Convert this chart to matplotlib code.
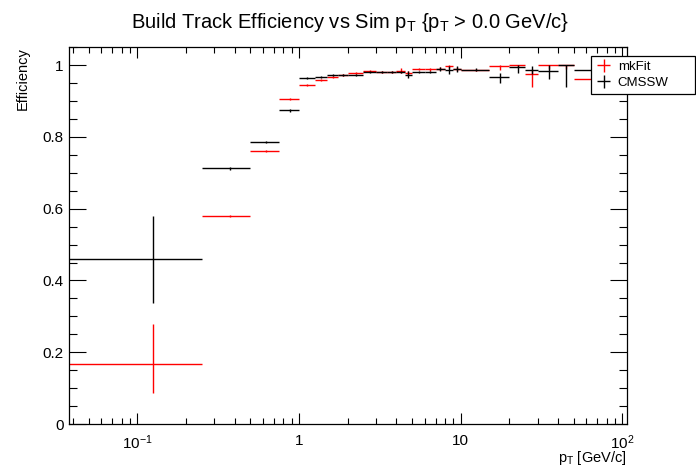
import matplotlib
matplotlib.use('Agg')
import matplotlib.pyplot as plt
from matplotlib.patches import Rectangle
from matplotlib.ticker import LogLocator, NullFormatter, MultipleLocator
from matplotlib.container import ErrorbarContainer
from matplotlib.legend_handler import HandlerErrorbar
import numpy as np

plt.rcParams['font.family'] = ['Liberation Sans', 'DejaVu Sans']
plt.rcParams['mathtext.fontset'] = 'custom'
plt.rcParams['mathtext.rm'] = 'Liberation Sans'
plt.rcParams['mathtext.it'] = 'Liberation Sans'
plt.rcParams['mathtext.bf'] = 'Liberation Sans:bold'

# ---- data ----
bin_edges = [0.0, 0.25, 0.5, 0.75, 1.0, 1.25, 1.5, 1.75, 2.0, 2.5, 3.0, 3.5, 4.0,
             4.5, 5.0, 6.0, 7.0, 8.0, 9.0, 10.0, 15.0, 20.0, 25.0, 30.0, 40.0,
             50.0, 100.0]

mkfit_eff = [0.167, 0.579, 0.761, 0.907, 0.945, 0.959, 0.967, 0.973, 0.978,
             0.983, 0.981, 0.981, 0.985, 0.978, 0.989, 0.989, 0.990, 0.999,
             0.990, 0.987, 0.998, 1.000, 0.975, 1.000, 1.000, 0.962]
mkfit_err_lo = [0.080, 0.003, 0.003, 0.003, 0.003, 0.003, 0.003, 0.003, 0.003,
                0.003, 0.003, 0.003, 0.006, 0.006, 0.003, 0.004, 0.004, 0.006,
                0.005, 0.003, 0.010, 0.006, 0.035, 0.010, 0.010, 0.008]
mkfit_err_hi = [0.112, 0.003, 0.003, 0.003, 0.003, 0.003, 0.003, 0.003, 0.003,
                0.003, 0.003, 0.003, 0.006, 0.006, 0.003, 0.004, 0.004, 0.001,
                0.004, 0.003, 0.002, 0.000, 0.015, 0.000, 0.000, 0.008]

cmssw_eff = [0.459, 0.713, 0.786, 0.875, 0.964, 0.967, 0.973, 0.973, 0.973,
             0.981, 0.981, 0.981, 0.981, 0.974, 0.981, 0.981, 0.990, 0.986,
             0.990, 0.987, 0.966, 0.994, 0.987, 0.985, 1.000, 0.986]
cmssw_err_lo = [0.121, 0.004, 0.004, 0.004, 0.003, 0.003, 0.003, 0.003, 0.003,
                0.003, 0.003, 0.003, 0.004, 0.010, 0.004, 0.004, 0.006, 0.011,
                0.009, 0.004, 0.016, 0.016, 0.012, 0.023, 0.060, 0.006]
cmssw_err_hi = [0.121, 0.004, 0.004, 0.004, 0.003, 0.003, 0.003, 0.003, 0.003,
                0.003, 0.003, 0.003, 0.004, 0.010, 0.004, 0.004, 0.006, 0.011,
                0.009, 0.004, 0.012, 0.006, 0.012, 0.015, 0.000, 0.006]

series_labels = ['mkFit', 'CMSSW']
series_colors = ['red', 'black']

xtick_values = [0.1, 1, 10, 100]
xtick_labels = [r'$\mathregular{10^{-1}}$', '1', '10', r'$\mathregular{10^{2}}$']
ytick_values = [0, 0.2, 0.4, 0.6, 0.8, 1.0]
ytick_labels = ['0', '0.2', '0.4', '0.6', '0.8', '1']

# ---- figure ----
W, H = 696, 472
fig = plt.figure(figsize=(W / 100, H / 100), dpi=100)
ax = fig.add_axes([69.3 / W, 1 - 424 / H, (626.7 - 69.3) / W, (424 - 47.3) / H])

edges = np.array(bin_edges)
lo = edges[:-1]
hi = edges[1:]
centers = 0.5 * (lo + hi)
lo_plot = np.maximum(lo, 1e-3)
xerr = [centers - lo_plot, hi - centers]

handles = []
for eff, elo, ehi, col, z in [(mkfit_eff, mkfit_err_lo, mkfit_err_hi, series_colors[0], 2),
                              (cmssw_eff, cmssw_err_lo, cmssw_err_hi, series_colors[1], 3)]:
    h = ax.errorbar(centers, eff, xerr=xerr, yerr=[elo, ehi], fmt='none',
                    ecolor=col, elinewidth=1.0, capsize=0, zorder=z)
    handles.append(h)

ax.set_xscale('log')
ax.set_xlim(0.038, 106.5)
ax.set_ylim(0, 1.05)

ax.set_xticks(xtick_values)
ax.set_xticklabels(xtick_labels)
ax.xaxis.set_minor_locator(LogLocator(base=10, subs=np.arange(2, 10)))
ax.xaxis.set_minor_formatter(NullFormatter())
ax.set_yticks(ytick_values)
ax.set_yticklabels(ytick_labels)
ax.yaxis.set_minor_locator(MultipleLocator(0.05))

ax.tick_params(which='both', direction='in', top=True, right=True, width=0.8,
               labelsize=11)
ax.tick_params(axis='x', which='major', length=8, pad=7)
ax.tick_params(axis='x', which='minor', length=4.3)
ax.tick_params(axis='y', which='major', length=12.2, pad=4)
ax.tick_params(axis='y', which='minor', length=5.8)
for s in ax.spines.values():
    s.set_linewidth(0.9)

# axis titles
ax.text(1.0, -0.101, r'p$_\mathregular{T}$ [GeV/c]', transform=ax.transAxes,
        ha='right', va='baseline', fontsize=10.5)
ax.text((22.5 - 69.3) / (626.7 - 69.3), 1.0, 'Efficiency', transform=ax.transAxes,
        rotation=90, ha='center', va='top', fontsize=10.5)

# title
fig.text(350 / W, 1 - 28 / H,
         r'Build Track Efficiency vs Sim p$_\mathregular{T}$ {p$_\mathregular{T}$ > 0.0 GeV/c}',
         ha='center', va='baseline', fontsize=14.5)

# legend
fig.patches.append(Rectangle((591 / W, 1 - 94 / H), 104 / W, 38 / H,
                             transform=fig.transFigure, facecolor='white',
                             edgecolor='black', linewidth=0.9, zorder=4))
fig.legend(handles=handles, labels=series_labels, loc='center left',
           bbox_to_anchor=(594 / W, 1 - 74.85 / H), bbox_transform=fig.transFigure,
           frameon=False, fontsize=9.5, handlelength=1.45, handletextpad=0.35,
           borderpad=0, borderaxespad=0, labelspacing=0.3,
           handler_map={ErrorbarContainer: HandlerErrorbar(xerr_size=0.5, yerr_size=0.5)})

fig.savefig('out.png', dpi=100)
